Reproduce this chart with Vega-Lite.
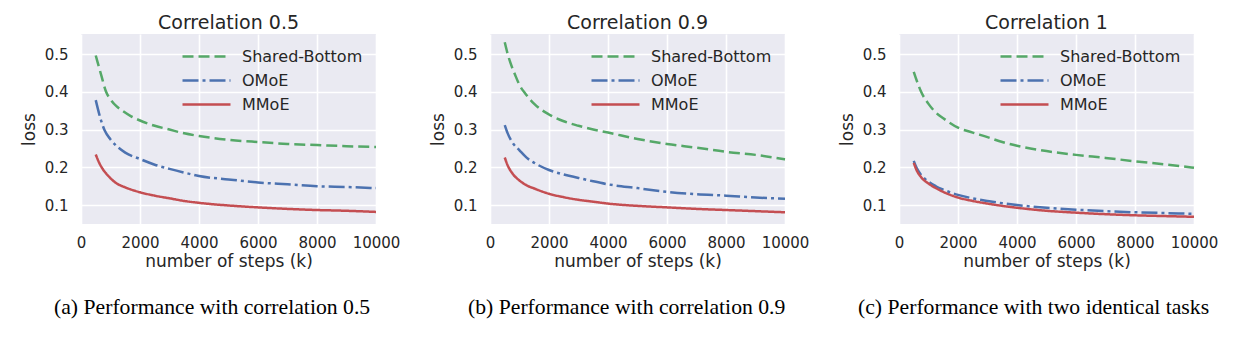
{
  "$schema": "https://vega.github.io/schema/vega-lite/v6.json",
  "background": "#FFFFFF",
  "padding": {"left": 20, "top": 14, "right": 5, "bottom": 18},
  "datasets": {
    "c05": [
      {"model": "Shared-Bottom", "step": 500, "loss": 0.496},
      {"model": "Shared-Bottom", "step": 600, "loss": 0.468},
      {"model": "Shared-Bottom", "step": 700, "loss": 0.440},
      {"model": "Shared-Bottom", "step": 850, "loss": 0.400},
      {"model": "Shared-Bottom", "step": 1000, "loss": 0.380},
      {"model": "Shared-Bottom", "step": 1200, "loss": 0.362},
      {"model": "Shared-Bottom", "step": 1400, "loss": 0.350},
      {"model": "Shared-Bottom", "step": 1700, "loss": 0.335},
      {"model": "Shared-Bottom", "step": 2000, "loss": 0.324},
      {"model": "Shared-Bottom", "step": 2500, "loss": 0.310},
      {"model": "Shared-Bottom", "step": 3000, "loss": 0.300},
      {"model": "Shared-Bottom", "step": 3500, "loss": 0.290},
      {"model": "Shared-Bottom", "step": 4000, "loss": 0.283},
      {"model": "Shared-Bottom", "step": 5000, "loss": 0.273},
      {"model": "Shared-Bottom", "step": 6000, "loss": 0.267},
      {"model": "Shared-Bottom", "step": 7000, "loss": 0.262},
      {"model": "Shared-Bottom", "step": 8000, "loss": 0.259},
      {"model": "Shared-Bottom", "step": 9000, "loss": 0.256},
      {"model": "Shared-Bottom", "step": 10000, "loss": 0.254},
      {"model": "OMoE", "step": 500, "loss": 0.378},
      {"model": "OMoE", "step": 650, "loss": 0.332},
      {"model": "OMoE", "step": 800, "loss": 0.298},
      {"model": "OMoE", "step": 1000, "loss": 0.274},
      {"model": "OMoE", "step": 1200, "loss": 0.257},
      {"model": "OMoE", "step": 1500, "loss": 0.239},
      {"model": "OMoE", "step": 2000, "loss": 0.222},
      {"model": "OMoE", "step": 2500, "loss": 0.207},
      {"model": "OMoE", "step": 3000, "loss": 0.196},
      {"model": "OMoE", "step": 3500, "loss": 0.186},
      {"model": "OMoE", "step": 4000, "loss": 0.177},
      {"model": "OMoE", "step": 5000, "loss": 0.168},
      {"model": "OMoE", "step": 6000, "loss": 0.160},
      {"model": "OMoE", "step": 7000, "loss": 0.155},
      {"model": "OMoE", "step": 8000, "loss": 0.150},
      {"model": "OMoE", "step": 9000, "loss": 0.148},
      {"model": "OMoE", "step": 10000, "loss": 0.145},
      {"model": "MMoE", "step": 500, "loss": 0.234},
      {"model": "MMoE", "step": 600, "loss": 0.215},
      {"model": "MMoE", "step": 700, "loss": 0.200},
      {"model": "MMoE", "step": 850, "loss": 0.184},
      {"model": "MMoE", "step": 1000, "loss": 0.171},
      {"model": "MMoE", "step": 1200, "loss": 0.158},
      {"model": "MMoE", "step": 1500, "loss": 0.147},
      {"model": "MMoE", "step": 2000, "loss": 0.134},
      {"model": "MMoE", "step": 2500, "loss": 0.125},
      {"model": "MMoE", "step": 3000, "loss": 0.118},
      {"model": "MMoE", "step": 3500, "loss": 0.111},
      {"model": "MMoE", "step": 4000, "loss": 0.106},
      {"model": "MMoE", "step": 5000, "loss": 0.099},
      {"model": "MMoE", "step": 6000, "loss": 0.094},
      {"model": "MMoE", "step": 7000, "loss": 0.090},
      {"model": "MMoE", "step": 8000, "loss": 0.087},
      {"model": "MMoE", "step": 9000, "loss": 0.085},
      {"model": "MMoE", "step": 10000, "loss": 0.082}
    ],
    "c09": [
      {"model": "Shared-Bottom", "step": 500, "loss": 0.531},
      {"model": "Shared-Bottom", "step": 600, "loss": 0.500},
      {"model": "Shared-Bottom", "step": 700, "loss": 0.475},
      {"model": "Shared-Bottom", "step": 850, "loss": 0.445},
      {"model": "Shared-Bottom", "step": 1000, "loss": 0.418},
      {"model": "Shared-Bottom", "step": 1200, "loss": 0.395},
      {"model": "Shared-Bottom", "step": 1500, "loss": 0.368},
      {"model": "Shared-Bottom", "step": 2000, "loss": 0.340},
      {"model": "Shared-Bottom", "step": 2500, "loss": 0.322},
      {"model": "Shared-Bottom", "step": 3000, "loss": 0.310},
      {"model": "Shared-Bottom", "step": 3500, "loss": 0.300},
      {"model": "Shared-Bottom", "step": 4000, "loss": 0.292},
      {"model": "Shared-Bottom", "step": 5000, "loss": 0.275},
      {"model": "Shared-Bottom", "step": 6000, "loss": 0.262},
      {"model": "Shared-Bottom", "step": 7000, "loss": 0.252},
      {"model": "Shared-Bottom", "step": 8000, "loss": 0.241},
      {"model": "Shared-Bottom", "step": 9000, "loss": 0.233},
      {"model": "Shared-Bottom", "step": 10000, "loss": 0.221},
      {"model": "OMoE", "step": 500, "loss": 0.312},
      {"model": "OMoE", "step": 600, "loss": 0.290},
      {"model": "OMoE", "step": 750, "loss": 0.267},
      {"model": "OMoE", "step": 1000, "loss": 0.245},
      {"model": "OMoE", "step": 1250, "loss": 0.225},
      {"model": "OMoE", "step": 1500, "loss": 0.212},
      {"model": "OMoE", "step": 2000, "loss": 0.193},
      {"model": "OMoE", "step": 2500, "loss": 0.181},
      {"model": "OMoE", "step": 3000, "loss": 0.172},
      {"model": "OMoE", "step": 3500, "loss": 0.163},
      {"model": "OMoE", "step": 4000, "loss": 0.155},
      {"model": "OMoE", "step": 5000, "loss": 0.145},
      {"model": "OMoE", "step": 6000, "loss": 0.135},
      {"model": "OMoE", "step": 7000, "loss": 0.129},
      {"model": "OMoE", "step": 8000, "loss": 0.125},
      {"model": "OMoE", "step": 9000, "loss": 0.120},
      {"model": "OMoE", "step": 10000, "loss": 0.117},
      {"model": "MMoE", "step": 500, "loss": 0.226},
      {"model": "MMoE", "step": 600, "loss": 0.205},
      {"model": "MMoE", "step": 750, "loss": 0.185},
      {"model": "MMoE", "step": 1000, "loss": 0.165},
      {"model": "MMoE", "step": 1250, "loss": 0.152},
      {"model": "MMoE", "step": 1500, "loss": 0.144},
      {"model": "MMoE", "step": 2000, "loss": 0.130},
      {"model": "MMoE", "step": 2500, "loss": 0.121},
      {"model": "MMoE", "step": 3000, "loss": 0.114},
      {"model": "MMoE", "step": 3500, "loss": 0.109},
      {"model": "MMoE", "step": 4000, "loss": 0.104},
      {"model": "MMoE", "step": 5000, "loss": 0.098},
      {"model": "MMoE", "step": 6000, "loss": 0.094},
      {"model": "MMoE", "step": 7000, "loss": 0.090},
      {"model": "MMoE", "step": 8000, "loss": 0.087},
      {"model": "MMoE", "step": 9000, "loss": 0.084},
      {"model": "MMoE", "step": 10000, "loss": 0.081}
    ],
    "c1": [
      {"model": "Shared-Bottom", "step": 500, "loss": 0.453},
      {"model": "Shared-Bottom", "step": 600, "loss": 0.430},
      {"model": "Shared-Bottom", "step": 750, "loss": 0.400},
      {"model": "Shared-Bottom", "step": 1000, "loss": 0.368},
      {"model": "Shared-Bottom", "step": 1250, "loss": 0.345},
      {"model": "Shared-Bottom", "step": 1500, "loss": 0.330},
      {"model": "Shared-Bottom", "step": 2000, "loss": 0.305},
      {"model": "Shared-Bottom", "step": 2500, "loss": 0.292},
      {"model": "Shared-Bottom", "step": 3000, "loss": 0.280},
      {"model": "Shared-Bottom", "step": 3500, "loss": 0.267},
      {"model": "Shared-Bottom", "step": 4000, "loss": 0.257},
      {"model": "Shared-Bottom", "step": 5000, "loss": 0.243},
      {"model": "Shared-Bottom", "step": 6000, "loss": 0.233},
      {"model": "Shared-Bottom", "step": 7000, "loss": 0.225},
      {"model": "Shared-Bottom", "step": 8000, "loss": 0.216},
      {"model": "Shared-Bottom", "step": 9000, "loss": 0.208},
      {"model": "Shared-Bottom", "step": 10000, "loss": 0.199},
      {"model": "OMoE", "step": 500, "loss": 0.217},
      {"model": "OMoE", "step": 600, "loss": 0.198},
      {"model": "OMoE", "step": 750, "loss": 0.180},
      {"model": "OMoE", "step": 1000, "loss": 0.162},
      {"model": "OMoE", "step": 1250, "loss": 0.150},
      {"model": "OMoE", "step": 1500, "loss": 0.141},
      {"model": "OMoE", "step": 2000, "loss": 0.127},
      {"model": "OMoE", "step": 2500, "loss": 0.118},
      {"model": "OMoE", "step": 3000, "loss": 0.111},
      {"model": "OMoE", "step": 3500, "loss": 0.105},
      {"model": "OMoE", "step": 4000, "loss": 0.100},
      {"model": "OMoE", "step": 5000, "loss": 0.093},
      {"model": "OMoE", "step": 6000, "loss": 0.088},
      {"model": "OMoE", "step": 7000, "loss": 0.084},
      {"model": "OMoE", "step": 8000, "loss": 0.081},
      {"model": "OMoE", "step": 9000, "loss": 0.079},
      {"model": "OMoE", "step": 10000, "loss": 0.077},
      {"model": "MMoE", "step": 500, "loss": 0.212},
      {"model": "MMoE", "step": 600, "loss": 0.192},
      {"model": "MMoE", "step": 750, "loss": 0.174},
      {"model": "MMoE", "step": 1000, "loss": 0.157},
      {"model": "MMoE", "step": 1250, "loss": 0.145},
      {"model": "MMoE", "step": 1500, "loss": 0.135},
      {"model": "MMoE", "step": 2000, "loss": 0.120},
      {"model": "MMoE", "step": 2500, "loss": 0.111},
      {"model": "MMoE", "step": 3000, "loss": 0.104},
      {"model": "MMoE", "step": 3500, "loss": 0.098},
      {"model": "MMoE", "step": 4000, "loss": 0.093},
      {"model": "MMoE", "step": 5000, "loss": 0.085},
      {"model": "MMoE", "step": 6000, "loss": 0.080},
      {"model": "MMoE", "step": 7000, "loss": 0.076},
      {"model": "MMoE", "step": 8000, "loss": 0.073},
      {"model": "MMoE", "step": 9000, "loss": 0.071},
      {"model": "MMoE", "step": 10000, "loss": 0.069}
    ]
  },
  "spacing": 29,
  "resolve": {
    "scale": {"x": "independent", "y": "independent", "color": "independent", "strokeDash": "independent"},
    "legend": {"color": "independent", "strokeDash": "independent"}
  },
  "hconcat": [
    {
      "title": {"text": "(a) Performance with correlation 0.5", "orient": "bottom", "anchor": "start", "frame": "group", "dx": -27, "offset": 28, "font": "Liberation Serif", "fontSize": 21.7, "fontWeight": "normal", "color": "#000000"},
      "resolve": {
        "scale": {"color": "independent", "strokeDash": "independent"},
        "legend": {"color": "independent", "strokeDash": "independent"}
      },
      "vconcat": [
        {
          "title": {"text": "Correlation 0.5", "offset": 1},
          "width": 295,
          "height": 190,
          "data": {"name": "c05"},
          "mark": {"type": "line", "strokeWidth": 2.5, "interpolate": "monotone"},
          "encoding": {
            "x": {"field": "step", "type": "quantitative", "scale": {"domain": [0, 10000], "nice": false}, "axis": {"values": [0, 2000, 4000, 6000, 8000, 10000], "format": "d", "title": "number of steps (k)"}},
            "y": {"field": "loss", "type": "quantitative", "scale": {"domain": [0.05, 0.553], "nice": false, "zero": false}, "axis": {"values": [0.1, 0.2, 0.3, 0.4, 0.5], "format": ".1f", "title": "loss"}},
            "color": {"field": "model", "type": "nominal", "scale": {"domain": ["Shared-Bottom", "OMoE", "MMoE"], "range": ["#55A868", "#4C72B0", "#C44E52"]}, "legend": {"title": null, "symbolType": "M-3,0H3"}},
            "strokeDash": {"field": "model", "type": "nominal", "scale": {"domain": ["Shared-Bottom", "OMoE", "MMoE"], "range": [[11, 5], [16, 4, 3, 4], [1, 0]]}, "legend": {"title": null, "symbolType": "M-3,0H3"}}
          }
        }
      ]
    },
    {
      "title": {"text": "(b) Performance with correlation 0.9", "orient": "bottom", "anchor": "start", "frame": "group", "dx": -22, "offset": 28, "font": "Liberation Serif", "fontSize": 21.7, "fontWeight": "normal", "color": "#000000"},
      "resolve": {
        "scale": {"color": "independent", "strokeDash": "independent"},
        "legend": {"color": "independent", "strokeDash": "independent"}
      },
      "vconcat": [
        {
          "title": {"text": "Correlation 0.9", "offset": 1},
          "width": 295,
          "height": 190,
          "data": {"name": "c09"},
          "mark": {"type": "line", "strokeWidth": 2.5, "interpolate": "monotone"},
          "encoding": {
            "x": {"field": "step", "type": "quantitative", "scale": {"domain": [0, 10000], "nice": false}, "axis": {"values": [0, 2000, 4000, 6000, 8000, 10000], "format": "d", "title": "number of steps (k)"}},
            "y": {"field": "loss", "type": "quantitative", "scale": {"domain": [0.05, 0.553], "nice": false, "zero": false}, "axis": {"values": [0.1, 0.2, 0.3, 0.4, 0.5], "format": ".1f", "title": "loss"}},
            "color": {"field": "model", "type": "nominal", "scale": {"domain": ["Shared-Bottom", "OMoE", "MMoE"], "range": ["#55A868", "#4C72B0", "#C44E52"]}, "legend": {"title": null, "symbolType": "M-3,0H3"}},
            "strokeDash": {"field": "model", "type": "nominal", "scale": {"domain": ["Shared-Bottom", "OMoE", "MMoE"], "range": [[11, 5], [16, 4, 3, 4], [1, 0]]}, "legend": {"title": null, "symbolType": "M-3,0H3"}}
          }
        }
      ]
    },
    {
      "title": {"text": "(c) Performance with two identical tasks", "orient": "bottom", "anchor": "start", "frame": "group", "dx": -41, "offset": 28, "font": "Liberation Serif", "fontSize": 21.7, "fontWeight": "normal", "color": "#000000"},
      "resolve": {
        "scale": {"color": "independent", "strokeDash": "independent"},
        "legend": {"color": "independent", "strokeDash": "independent"}
      },
      "vconcat": [
        {
          "title": {"text": "Correlation 1", "offset": 1},
          "width": 295,
          "height": 190,
          "data": {"name": "c1"},
          "mark": {"type": "line", "strokeWidth": 2.5, "interpolate": "monotone"},
          "encoding": {
            "x": {"field": "step", "type": "quantitative", "scale": {"domain": [0, 10000], "nice": false}, "axis": {"values": [0, 2000, 4000, 6000, 8000, 10000], "format": "d", "title": "number of steps (k)"}},
            "y": {"field": "loss", "type": "quantitative", "scale": {"domain": [0.05, 0.553], "nice": false, "zero": false}, "axis": {"values": [0.1, 0.2, 0.3, 0.4, 0.5], "format": ".1f", "title": "loss"}},
            "color": {"field": "model", "type": "nominal", "scale": {"domain": ["Shared-Bottom", "OMoE", "MMoE"], "range": ["#55A868", "#4C72B0", "#C44E52"]}, "legend": {"title": null, "symbolType": "M-3,0H3"}},
            "strokeDash": {"field": "model", "type": "nominal", "scale": {"domain": ["Shared-Bottom", "OMoE", "MMoE"], "range": [[11, 5], [16, 4, 3, 4], [1, 0]]}, "legend": {"title": null, "symbolType": "M-3,0H3"}}
          }
        }
      ]
    }
  ],
  "config": {
    "view": {"fill": "#EAEAF2", "stroke": null},
    "font": "DejaVu Sans",
    "title": {"font": "DejaVu Sans", "fontSize": 19, "fontWeight": "normal", "color": "#262626"},
    "axis": {"domain": false, "ticks": false, "tickSize": 0, "grid": true, "gridColor": "#FFFFFF", "gridWidth": 1.6, "labelFont": "DejaVu Sans", "labelFontSize": 15, "labelColor": "#262626", "titleFont": "DejaVu Sans", "titleFontSize": 17, "titleFontWeight": "normal", "titleColor": "#262626", "labelFlush": false, "labelOverlap": false},
    "axisX": {"labelPadding": 11, "titlePadding": 3},
    "axisY": {"labelPadding": 13, "titlePadding": 6},
    "legend": {"orient": "top-right", "offset": 13, "padding": 0, "symbolSize": 256, "symbolStrokeWidth": 2.5, "labelFont": "DejaVu Sans", "labelFontSize": 16, "labelColor": "#262626", "labelOffset": 26, "rowPadding": 6}
  }
}
